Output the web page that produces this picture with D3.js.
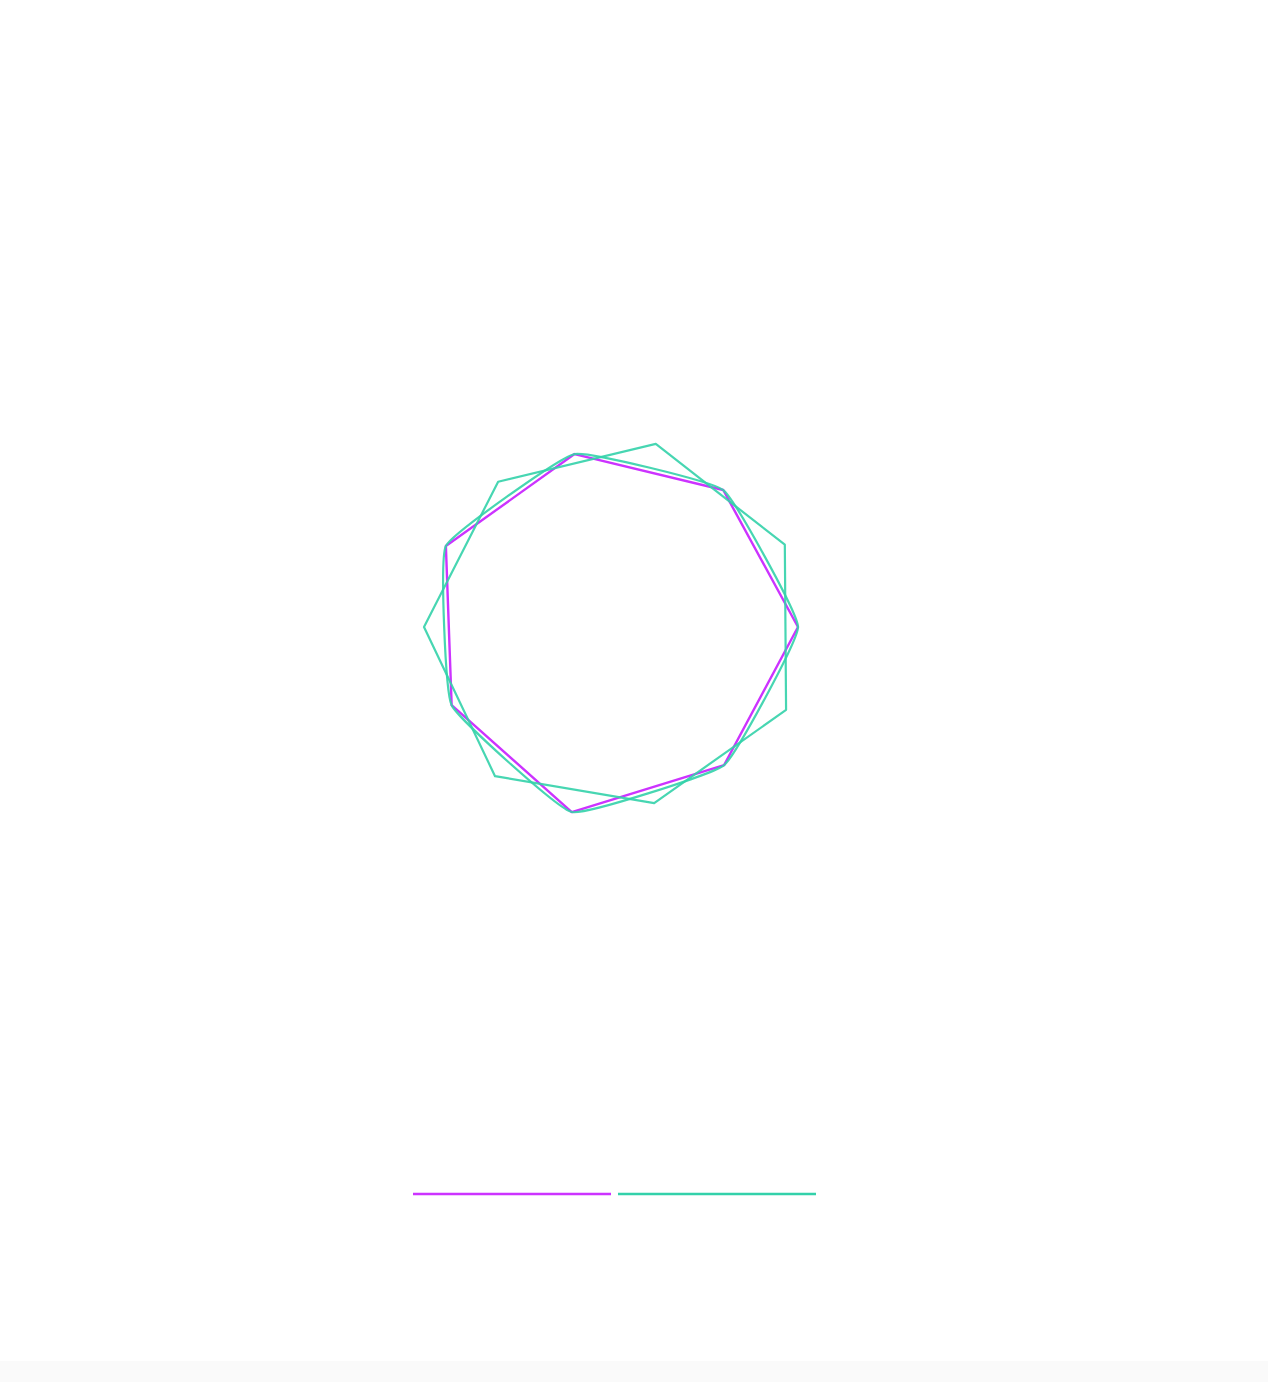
<!DOCTYPE html>
<html>
<head>
<meta charset="utf-8">
<script src="https://cdn.jsdelivr.net/npm/d3@7"></script>
<style>
  html, body { margin: 0; padding: 0; background: #fafafa; }
  svg { display: block; background: #ffffff; }
</style>
</head>
<body>
<svg id="chart" width="1268" height="1361"></svg>
<script>
// ---- data ----
const seriesNames = ["Series 1", "Series 2"];
const seriesColors = ["#cc33ff", "#33d1aa"];
// values for 7 axes (counter-clockwise from east)
const series1Values = [92.0, 87.6, 88.7, 93.3, 90.1, 94.9, 88.3];
// second series sits half a step further round
const series2Values = [94.8, 93.9, 92.9, 95.0, 95.4, 90.3, 95.5];
const radialDomain = [0, 100];

// ---- layout ----
const svg = d3.select("#chart");
const cx = 614, cy = 627;
const rScale = d3.scaleLinear().domain(radialDomain).range([0, 200]);
const n = series1Values.length;
const step = 2 * Math.PI / n;
const angle = (i, offset) => Math.PI / 2 - (i + offset) * step;

const g = svg.append("g").attr("transform", `translate(${cx},${cy})`);

const lineStraight = d3.lineRadial()
  .angle(d => d.a)
  .radius(d => rScale(d.v))
  .curve(d3.curveLinearClosed);

const lineSmooth = d3.lineRadial()
  .angle(d => d.a)
  .radius(d => rScale(d.v))
  .curve(d3.curveCardinalClosed.tension(0.7));

const pts1 = series1Values.map((v, i) => ({ a: angle(i, 0), v }));
const pts2 = series2Values.map((v, i) => ({ a: angle(i, 0.5), v }));

g.append("path")
  .attr("d", lineStraight(pts1))
  .attr("fill", "none")
  .attr("stroke", seriesColors[0])
  .attr("stroke-width", 2.4)
  .attr("stroke-linejoin", "round");

g.append("path")
  .attr("d", lineSmooth(pts1))
  .attr("fill", "none")
  .attr("stroke", seriesColors[1])
  .attr("stroke-opacity", 0.9)
  .attr("stroke-width", 2.2)
  .attr("stroke-linejoin", "round");

g.append("path")
  .attr("d", lineStraight(pts2))
  .attr("fill", "none")
  .attr("stroke", seriesColors[1])
  .attr("stroke-opacity", 0.9)
  .attr("stroke-width", 2.2)
  .attr("stroke-linejoin", "round");

// ---- legend ----
const legendX = d3.scaleBand().domain(seriesNames).range([413, 816]).paddingInner(0.034);
svg.append("g").selectAll("line")
  .data(seriesNames)
  .join("line")
  .attr("x1", d => legendX(d))
  .attr("x2", d => legendX(d) + legendX.bandwidth())
  .attr("y1", 1194)
  .attr("y2", 1194)
  .attr("stroke", (d, i) => seriesColors[i])
  .attr("stroke-width", 2.5);
</script>
</body>
</html>
